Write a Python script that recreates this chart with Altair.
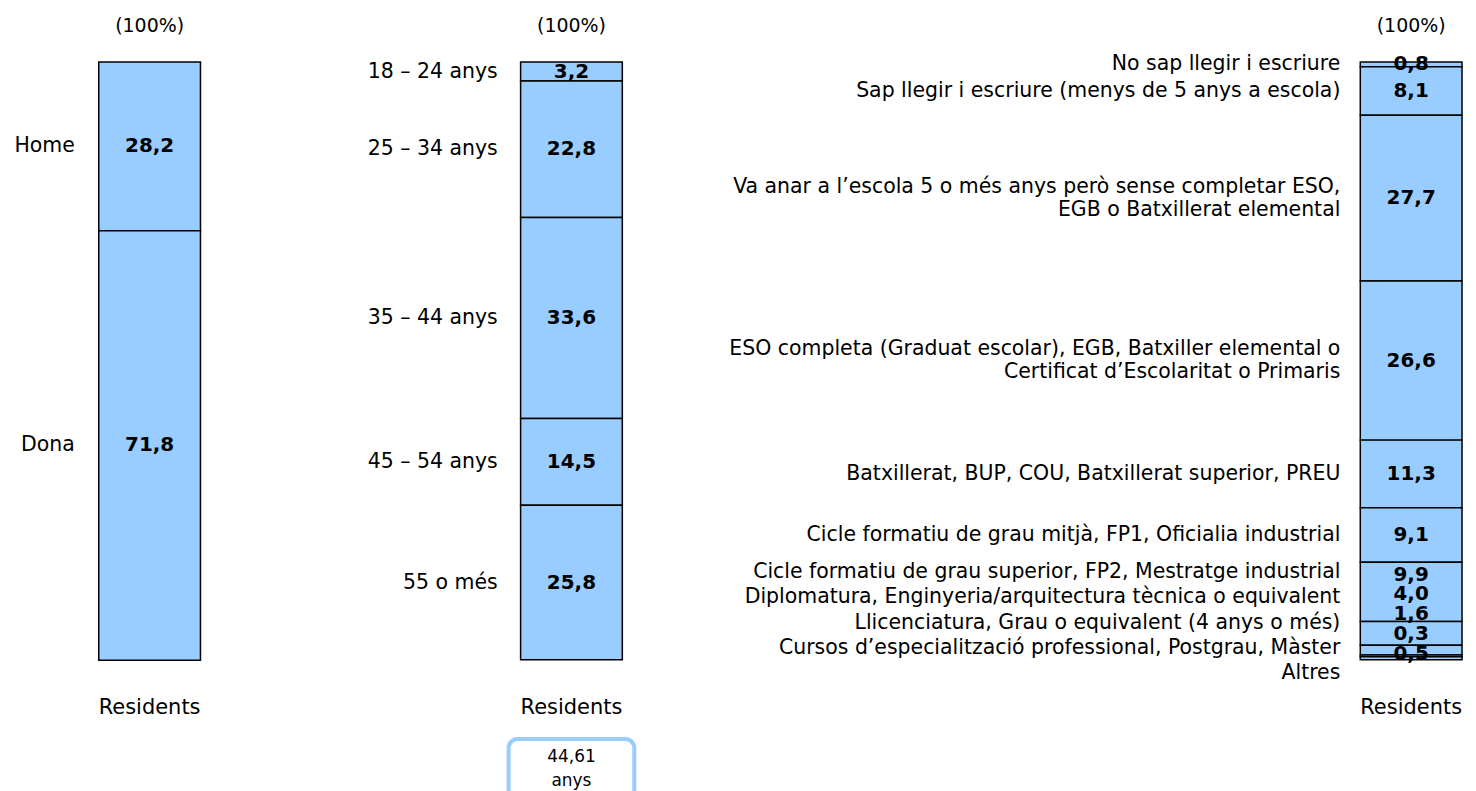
import altair as alt
import pandas as pd

# ---------------- data ----------------
sexe_cats = ["Home", "Dona"]
sexe_vals = [28.2, 71.8]

edat_cats = ["18 – 24 anys", "25 – 34 anys", "35 – 44 anys", "45 – 54 anys", "55 o més"]
edat_vals = [3.2, 22.8, 33.6, 14.5, 25.8]

estudis_cats = [
    "No sap llegir i escriure",
    "Sap llegir i escriure (menys de 5 anys a escola)",
    "Va anar a l’escola 5 o més anys però sense completar ESO,\nEGB o Batxillerat elemental",
    "ESO completa (Graduat escolar), EGB, Batxiller elemental o\nCertificat d’Escolaritat o Primaris",
    "Batxillerat, BUP, COU, Batxillerat superior, PREU",
    "Cicle formatiu de grau mitjà, FP1, Oficialia industrial",
    "Cicle formatiu de grau superior, FP2, Mestratge industrial",
    "Diplomatura, Enginyeria/arquitectura tècnica o equivalent",
    "Llicenciatura, Grau o equivalent (4 anys o més)",
    "Cursos d’especialització professional, Postgrau, Màster",
    "Altres",
]
estudis_vals = [0.8, 8.1, 27.7, 26.6, 11.3, 9.1, 9.9, 4.0, 1.6, 0.3, 0.5]

mean_age = 44.61
group_label = "Residents"
total_label = "(100%)"

# ---------------- style ----------------
FONT = "DejaVu Sans"
FILL = "#99CCFF"
BAR_W = 102
H = 600
LINE_H = 23
LABEL_GAP_PX = 25.5
VALUE_GAP_PX = 20
LABEL_HI = 102.2
VALUE_HI = 99.0


def fmt(v):
    return f"{v:.1f}".replace(".", ",")


def spread(centers, gap, hi):
    """Push label positions apart so that they are at least `gap` apart."""
    clusters = [[i] for i in range(len(centers))]

    def place(cl):
        m = sum(centers[i] for i in cl) / len(cl)
        start = m - gap * (len(cl) - 1) / 2
        end = start + gap * (len(cl) - 1)
        if end > hi:
            start -= end - hi
        return start

    changed = True
    while changed:
        changed = False
        for k in range(len(clusters) - 1):
            a, b = clusters[k], clusters[k + 1]
            end_a = place(a) + gap * (len(a) - 1)
            if place(b) - end_a < gap - 1e-9:
                clusters[k] = a + b
                del clusters[k + 1]
                changed = True
                break
    pos = []
    for cl in clusters:
        s = place(cl)
        pos += [s + gap * j for j in range(len(cl))]
    return pos


def panel(cats, vals, width, label_pad, with_box=False):
    starts = []
    acc = 0.0
    for v in vals:
        starts.append(acc)
        acc += v
    centers = [s + v / 2 for s, v in zip(starts, vals)]
    lab_pos = spread(centers, LABEL_GAP_PX / H * 100, LABEL_HI)
    # centre multi-line blocks on their position (first line sits above)
    lab_pos = [p - (c.count("\n")) * LINE_H / 2 / H * 100 for p, c in zip(lab_pos, cats)]
    val_pos = spread(centers, VALUE_GAP_PX / H * 100, VALUE_HI)
    df = pd.DataFrame({
        "cat": cats,
        "value": vals,
        "idx": list(range(len(cats))),
        "lab_pos": lab_pos,
        "val_pos": val_pos,
        "val_txt": [fmt(v) for v in vals],
        "grp": [group_label] * len(cats),
    })

    xs = alt.X(
        "grp:N",
        scale=alt.Scale(domain=[group_label], range=[width - BAR_W, width],
                        paddingInner=0, paddingOuter=0),
        axis=alt.Axis(title=None, labelAngle=0, labelFontSize=21, labelPadding=36,
                      ticks=False, tickSize=0, domain=False, labelFont=FONT,
                      labelColor="black", grid=False),
    )
    yscale = alt.Scale(domain=[0, 100], reverse=True, nice=False, zero=False)

    base = alt.Chart(df)
    bars = base.mark_bar(fill=FILL, stroke="black", strokeWidth=1.5,
                         cornerRadius=0).encode(
        x=xs,
        y=alt.Y("value:Q", stack="zero", scale=yscale, axis=None),
        order=alt.Order("idx:Q"),
    )
    cat_text = base.mark_text(
        align="right", baseline="middle", fontSize=20.5, font=FONT,
        lineBreak="\n", lineHeight=LINE_H, color="black",
    ).encode(
        x=alt.value(width - BAR_W - label_pad),
        y=alt.Y("lab_pos:Q", scale=yscale, axis=None),
        text="cat:N",
    )
    val_text = base.mark_text(
        align="center", baseline="middle", fontSize=20, fontWeight="bold",
        font=FONT, color="black",
    ).encode(
        x=xs,
        y=alt.Y("val_pos:Q", scale=yscale, axis=None),
        text="val_txt:N",
    )
    top = alt.Chart(pd.DataFrame({"grp": [group_label], "t": [total_label]})).mark_text(
        align="center", baseline="middle", fontSize=19, font=FONT, color="black",
    ).encode(x=xs, y=alt.value(-36), text="t:N")

    layers = [bars, cat_text, val_text, top]
    if with_box:
        cx = width - BAR_W / 2
        bdf = pd.DataFrame({"t": [f"{mean_age:.2f}".replace(".", ",") + "\nanys"]})
        box = alt.Chart(bdf).mark_rect(
            fill="white", stroke=FILL, strokeWidth=4, cornerRadius=9,
        ).encode(
            x=alt.value(cx - 63), x2=alt.value(cx + 63),
            y=alt.value(H + 79), y2=alt.value(H + 150),
        )
        box_text = alt.Chart(bdf).mark_text(
            align="center", baseline="middle", fontSize=17, font=FONT,
            lineBreak="\n", lineHeight=24, color="black",
        ).encode(x=alt.value(cx), y=alt.value(H + 97), text="t:N")
        layers += [box, box_text]

    return alt.layer(*layers).properties(width=width, height=H)


p1 = panel(sexe_cats, sexe_vals, BAR_W, 24)
p2 = panel(edat_cats, edat_vals, 321 + BAR_W, 23, with_box=True)
p3 = panel(estudis_cats, estudis_vals, 740 + BAR_W, 20)

chart = alt.hconcat(p1, p2, p3, spacing=0, bounds="flush").properties(
    padding={"top": 8, "left": 6, "right": 5, "bottom": 5}
).configure(font=FONT, background="white").configure_view(stroke=None)

chart.save("out.html", embed_options={"renderer": "svg", "actions": False})
